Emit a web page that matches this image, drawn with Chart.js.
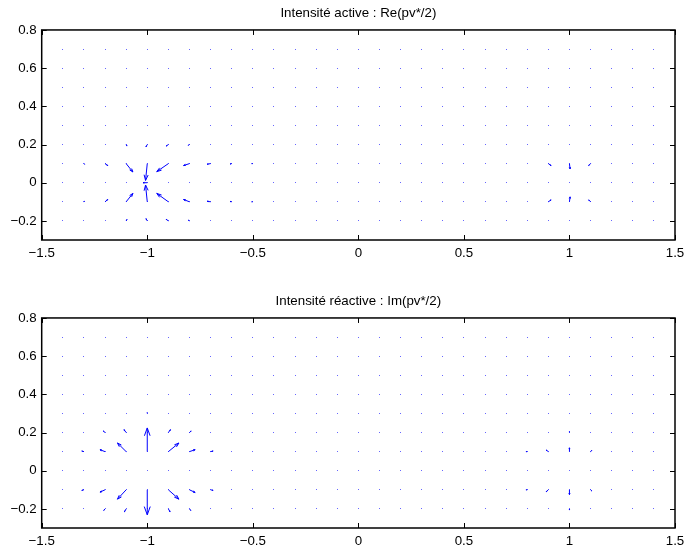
<!DOCTYPE html>
<html>
<head>
<meta charset="utf-8">
<script src="https://cdn.jsdelivr.net/npm/chart.js@4/dist/chart.umd.min.js"></script>
<style>
html, body { margin: 0; padding: 0; background: #fff; }
#wrap { position: relative; width: 684px; height: 551px; overflow: hidden; }
canvas { position: absolute; left: 0; }
</style>
</head>
<body>
<div id="wrap">
    <canvas id="chart-active" width="684" height="280" style="top:0"></canvas>
    <canvas id="chart-reactive" width="684" height="271" style="top:280px"></canvas>
</div>
<script>
// quiver grid
const GRID_X = [-1.4, -1.3, -1.2, -1.1, -1.0, -0.9, -0.8, -0.7, -0.6, -0.5, -0.4, -0.3, -0.2, -0.1, 0,
    0.1, 0.2, 0.3, 0.4, 0.5, 0.6, 0.7, 0.8, 0.9, 1.0, 1.1, 1.2, 1.3, 1.4]
const GRID_Y = [-0.2, -0.1, 0, 0.1, 0.2, 0.3, 0.4, 0.5, 0.6, 0.7]

const X_TICKS = [-1.5, -1, -0.5, 0, 0.5, 1, 1.5]
const Y_TICKS = [-0.2, 0, 0.2, 0.4, 0.6, 0.8]

// visible arrows of Re(pv*/2) (origin x, y and vector u, v)
const ACTIVE_X = [-1.1, -1.0, -0.9, -0.8,
    -1.3, -1.2, -1.1, -1.0, -0.9, -0.8, -0.7, -0.6, -0.5,
    -1.0,
    -1.3, -1.2, -1.1, -1.0, -0.9, -0.8, -0.7, -0.6, -0.5,
    -1.1, -1.0, -0.9, -0.8,
    0.9, 1.0, 1.1, 0.9, 1.0, 1.1]
const ACTIVE_Y = [0.2, 0.2, 0.2, 0.2,
    0.1, 0.1, 0.1, 0.1, 0.1, 0.1, 0.1, 0.1, 0.1,
    0,
    -0.1, -0.1, -0.1, -0.1, -0.1, -0.1, -0.1, -0.1, -0.1,
    -0.2, -0.2, -0.2, -0.2,
    0.1, 0.1, 0.1, -0.1, -0.1, -0.1]
const ACTIVE_U = [0.004, -0.006, -0.010, -0.006,
    0.004, 0.013, 0.032, -0.008, -0.055, -0.028, -0.016, -0.008, -0.005,
    -0.020,
    0.004, 0.013, 0.032, -0.008, -0.055, -0.028, -0.016, -0.008, -0.005,
    0.004, -0.006, -0.010, -0.006,
    0.013, 0.003, -0.009, 0.013, 0.003, -0.009]
const ACTIVE_V = [-0.008, -0.012, -0.008, -0.004,
    -0.003, -0.010, -0.044, -0.088, -0.042, -0.010, -0.003, -0.002, 0,
    0,
    0.003, 0.012, 0.044, 0.088, 0.044, 0.012, 0.003, 0.002, 0,
    0.008, 0.012, 0.008, 0.004,
    -0.010, -0.028, -0.010, 0.010, 0.026, 0.010]

// visible arrows of Im(pv*/2)
const REACTIVE_X = [-1.0,
    -1.2, -1.1, -0.9, -0.8,
    -1.3, -1.2, -1.1, -1.0, -0.9, -0.8, -0.7,
    -1.3, -1.2, -1.1, -1.0, -0.9, -0.8, -0.7,
    -1.2, -1.1, -0.9, -0.8,
    0.8, 0.9, 1.0, 1.1, 1.0, 0.8, 0.9, 1.0, 1.1, 1.0]
const REACTIVE_Y = [0.3,
    0.2, 0.2, 0.2, 0.2,
    0.1, 0.1, 0.1, 0.1, 0.1, 0.1, 0.1,
    -0.1, -0.1, -0.1, -0.1, -0.1, -0.1, -0.1,
    -0.2, -0.2, -0.2, -0.2,
    0.1, 0.1, 0.1, 0.1, 0.2, -0.1, -0.1, -0.1, -0.1, -0.2]
const REACTIVE_U = [0,
    -0.008, -0.010, 0.010, 0.008,
    -0.010, -0.024, -0.041, 0, 0.050, 0.027, 0.012,
    -0.010, -0.024, -0.041, 0, 0.050, 0.027, 0.012,
    -0.006, -0.008, 0.008, 0.006,
    -0.006, -0.010, 0, 0.006, 0, -0.006, -0.010, 0, 0.006, 0]
const REACTIVE_V = [0.005,
    0.008, 0.015, 0.015, 0.008,
    0.003, 0.010, 0.045, 0.124, 0.045, 0.010, 0.003,
    -0.003, -0.012, -0.049, -0.131, -0.049, -0.014, -0.003,
    -0.008, -0.015, -0.015, -0.008,
    0, 0.008, 0.020, 0.006, 0.006, 0, -0.010, -0.025, -0.006, -0.006]

const FONT = { family: "'Liberation Sans', Arial, Helvetica, sans-serif", size: 13.3, weight: 'normal' }
const BLUE = '#0000ff'

const fmt = (v) => (v < 0 ? '\u2212' + String(-v) : String(v))

const gridPoints = []
GRID_Y.forEach((y) => GRID_X.forEach((x) => gridPoints.push({ x, y })))

const quiverPlugin = {
    id: 'quiver',
    afterDatasetsDraw(chart) {
        const { ctx } = chart
        const sx = chart.scales.x
        const sy = chart.scales.y
        ctx.save()
        // tiny vectors show up as single faint pixels
        ctx.fillStyle = 'rgba(0, 0, 255, 0.6)'
        chart.getDatasetMeta(0).data.forEach((pt) => {
            ctx.fillRect(Math.floor(pt.x), Math.floor(pt.y), 1, 1)
        })
        ctx.strokeStyle = BLUE
        ctx.lineWidth = 1
        const a = 0.33
        const b = 0.33
        chart.data.datasets[1].data.forEach((p) => {
            const tx = p.x + p.u
            const ty = p.y + p.v
            const h1x = tx - a * (p.u + b * p.v)
            const h1y = ty - a * (p.v - b * p.u)
            const h2x = tx - a * (p.u - b * p.v)
            const h2y = ty - a * (p.v + b * p.u)
            ctx.beginPath()
            ctx.moveTo(sx.getPixelForValue(p.x), sy.getPixelForValue(p.y))
            ctx.lineTo(sx.getPixelForValue(tx), sy.getPixelForValue(ty))
            ctx.moveTo(sx.getPixelForValue(h1x), sy.getPixelForValue(h1y))
            ctx.lineTo(sx.getPixelForValue(tx), sy.getPixelForValue(ty))
            ctx.lineTo(sx.getPixelForValue(h2x), sy.getPixelForValue(h2y))
            ctx.stroke()
        })
        ctx.restore()
    },
}

// MATLAB style box with inward ticks on all sides
const framePlugin = {
    id: 'frame',
    afterDraw(chart) {
        const { ctx, chartArea: area } = chart
        const len = 5
        ctx.save()
        ctx.strokeStyle = '#000'
        ctx.lineWidth = 1.5
        ctx.strokeRect(area.left, area.top, area.right - area.left, area.bottom - area.top)
        ctx.lineWidth = 1
        ctx.beginPath()
        X_TICKS.forEach((v) => {
            const px = Math.round(chart.scales.x.getPixelForValue(v)) + 0.5
            ctx.moveTo(px, area.bottom)
            ctx.lineTo(px, area.bottom - len)
            ctx.moveTo(px, area.top)
            ctx.lineTo(px, area.top + len)
        })
        Y_TICKS.forEach((v) => {
            const py = Math.round(chart.scales.y.getPixelForValue(v)) + 0.5
            ctx.moveTo(area.left, py)
            ctx.lineTo(area.left + len, py)
            ctx.moveTo(area.right, py)
            ctx.lineTo(area.right - len, py)
        })
        ctx.stroke()
        ctx.restore()
    },
}

const makeChart = (id, title, titlePadding, xHeight, xs, ys, us, vs) => {
    return new Chart(document.getElementById(id), {
        type: 'scatter',
        data: {
            datasets: [
                { data: gridPoints, pointRadius: 0 },
                { data: xs.map((x, i) => ({ x, y: ys[i], u: us[i], v: vs[i] })), pointRadius: 0 },
            ],
        },
        options: {
            responsive: false,
            animation: false,
            events: [],
            layout: { padding: { left: 0, right: 9, top: 0, bottom: 0 } },
            plugins: {
                legend: { display: false },
                tooltip: { enabled: false },
                title: {
                    display: true,
                    fullSize: false,
                    text: title,
                    color: '#000',
                    font: FONT,
                    padding: titlePadding,
                },
            },
            scales: {
                x: {
                    type: 'linear',
                    min: -1.5,
                    max: 1.5,
                    afterBuildTicks: (s) => {
                        s.ticks = X_TICKS.map((value) => ({ value }))
                    },
                    afterFit: (s) => {
                        s.height = xHeight
                        s.paddingLeft = 0
                        s.paddingRight = 0
                    },
                    ticks: { callback: fmt, color: '#000', font: FONT, padding: 5, maxRotation: 0, autoSkip: false },
                    grid: { display: false, drawTicks: false },
                    border: { display: false },
                },
                y: {
                    type: 'linear',
                    min: -0.3,
                    max: 0.8,
                    afterBuildTicks: (s) => {
                        s.ticks = Y_TICKS.map((value) => ({ value }))
                    },
                    afterFit: (s) => {
                        s.width = 41.7
                        s.paddingTop = 0
                        s.paddingBottom = 0
                    },
                    ticks: { callback: fmt, color: '#000', font: FONT, padding: 5, autoSkip: false },
                    grid: { display: false, drawTicks: false },
                    border: { display: false },
                },
            },
        },
        plugins: [quiverPlugin, framePlugin],
    })
}

const chartActive = makeChart('chart-active', 'Intensité active : Re(pv*/2)',
    { top: 5, bottom: 9 }, 40, ACTIVE_X, ACTIVE_Y, ACTIVE_U, ACTIVE_V)
const chartReactive = makeChart('chart-reactive', 'Intensité réactive : Im(pv*/2)',
    { top: 13.5, bottom: 8.5 }, 23, REACTIVE_X, REACTIVE_Y, REACTIVE_U, REACTIVE_V)
</script>
</body>
</html>
